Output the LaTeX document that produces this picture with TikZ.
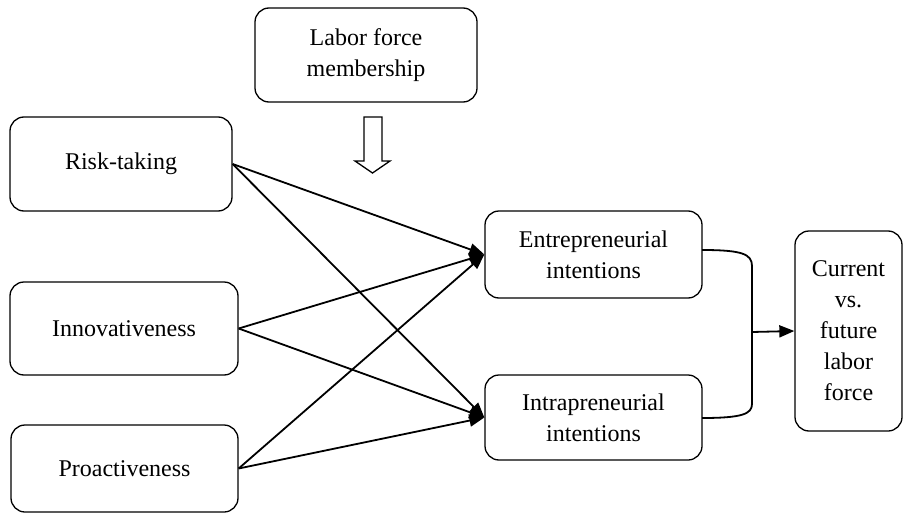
\documentclass[tikz,border=0pt]{standalone}
\usepackage{fontspec}
\setmainfont{Liberation Serif}
\usetikzlibrary{arrows.meta}
\begin{document}
\begin{tikzpicture}[x=1pt,y=-1pt,
  box/.style={draw,line width=1.3pt,rounded corners=14pt,align=center,inner sep=0pt,
    font=\fontsize{24}{31}\selectfont},
  link/.style={line width=1.8pt,-{Triangle[length=15pt,width=12pt]}},
  bracket/.style={line width=1.8pt}]
\useasboundingbox (0,0) rectangle (903,514);
\node[box,minimum width=222pt,minimum height=94pt] (labor) at (366,55) {Labor force\\membership};
\node[box,minimum width=222pt,minimum height=94pt] (risk) at (121,164) {Risk-taking};
\node[box,minimum width=228pt,minimum height=93pt] (innov) at (124,328.5) {Innovativeness};
\node[box,minimum width=227pt,minimum height=87pt] (proact) at (124.5,468.5) {Proactiveness};
\node[box,minimum width=217pt,minimum height=87pt] (entre) at (593.5,254.5) {Entrepreneurial\\intentions};
\node[box,minimum width=217pt,minimum height=85pt] (intra) at (593.5,417.5) {Intrapreneurial\\intentions};
\node[box,minimum width=107pt,minimum height=200pt] (curr) at (848.5,331) {Current\\vs.\\future\\labor\\force};
% block arrow
\draw[line width=1.3pt,line join=miter] (364,117) -- (382,117) -- (382,161) -- (390,161) -- (372.5,173) -- (355,161) -- (364,161) -- cycle;
% links
\draw[link] (risk.east) -- (entre.west);
\draw[link] (risk.east) -- (intra.west);
\draw[link] (innov.east) -- (entre.west);
\draw[link] (innov.east) -- (intra.west);
\draw[link] (proact.east) -- (entre.west);
\draw[link] (proact.east) -- (intra.west);
% bracket
\coordinate (t) at (702,250);
\coordinate (b) at (702,418);
\coordinate (j) at (752,332);
\draw[bracket] (t) .. controls (742,250) and (752,254) .. (752,266) -- (752,404) .. controls (752,414) and (742,418) .. (b);
\draw[link] (j) -- (curr.west);
\end{tikzpicture}
\end{document}
